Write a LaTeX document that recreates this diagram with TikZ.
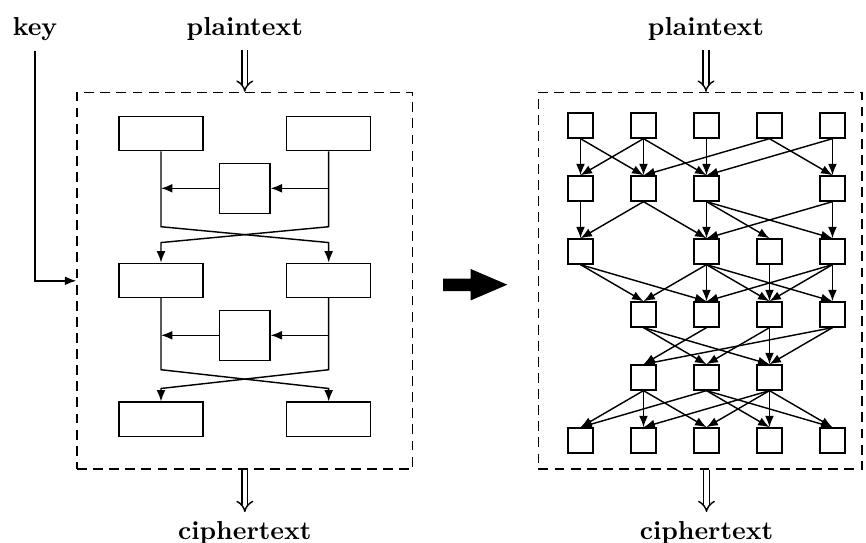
\documentclass[tikz,border=0pt]{standalone}
\usetikzlibrary{arrows.meta,calc}

\begin{document}
\begin{tikzpicture}[x=0.385pt, y=-0.385pt, line width=0.55pt,
    >={Latex[length=4.4pt,width=3.4pt]},
    txt/.style={font=\bfseries, anchor=base},
    encbox/.style={draw, dash pattern=on 3.8pt off 2.4pt, minimum height=145pt, inner sep=0pt},
    half/.style={draw, minimum width=32.3pt, minimum height=13.1pt, inner sep=0pt},
    fbox/.style={draw, minimum size=19.3pt, inner sep=0pt},
    sbox/.style={draw, minimum size=9.6pt, inner sep=0pt},
    feed/.style={double, double distance=1.7pt, -{Implies[scale=1.4]}},
    node distance=24.25pt]
    \useasboundingbox (0,0) rectangle (866,543);

    % texts
    \node[txt] (key) at (35,36) {key};
    \node[txt] (ptL) at (244.8,36) {plaintext};
    \node[txt] (ptR) at (706,36) {plaintext};
    \node[txt] (ctL) at (244.8,539.5) {ciphertext};
    \node[txt] (ctR) at (706.5,539.5) {ciphertext};

    % the two ciphers
    \node[encbox, minimum width=129.2pt] (encL) at (244.8,280.8) {};
    \node[encbox, minimum width=124.6pt] (encR) at (700.3,280.8) {};

    % left: two Feistel rounds
    \node[half] (L1) at (161,133.7) {};
    \node[half] (R1) at (328.7,133.7) {};
    \node[fbox] (F1) at (244.8,188.3) {};
    \node[half] (L2) at (161,280.3) {};
    \node[half] (R2) at (328.7,280.3) {};
    \node[fbox] (F2) at (244.8,335.3) {};
    \node[half] (L3) at (161,419.2) {};
    \node[half] (R3) at (328.7,419.2) {};

    \draw[feed] (ptL) -- (encL.north);
    \draw[feed] (encL.south) -- (ctL);
    \draw[->] (key) |- (encL.west);

    \draw[->] (R1.south |- F1) -- (F1);
    \draw[->] (F1) -- (L1.south |- F1);
    \draw[->] (L1.south) -- ++(0,75.3) -- ($(R2.north)+(0,-20)$) -- (R2.north);
    \draw[->] (R1.south) -- ++(0,75.3) -- ($(L2.north)+(0,-20)$) -- (L2.north);

    \draw[->] (R2.south |- F2) -- (F2);
    \draw[->] (F2) -- (L2.south |- F2);
    \draw[->] (L2.south) -- ++(0,71.7) -- ($(R3.north)+(0,-13)$) -- (R3.north);
    \draw[->] (R2.south) -- ++(0,71.7) -- ($(L3.north)+(0,-13)$) -- (L3.north);

    % big arrow
    \fill (443,278.5) -- (470.7,278.5) -- (470.7,269) -- (507.3,284.7)
        -- (470.7,300.4) -- (470.7,291) -- (443,291) -- cycle;

    % right: network of small boxes
    \node[sbox] (a1) at (580.5,125.5) {};
    \node[sbox, right of=a1] (a2) {};
    \node[sbox, right of=a2] (a3) {};
    \node[sbox, right of=a3] (a4) {};
    \node[sbox, right of=a4] (a5) {};

    \node[sbox, below of=a1] (b1) {};
    \node[sbox, below of=a2] (b2) {};
    \node[sbox, below of=a3] (b3) {};
    \node[sbox, below of=a5] (b5) {};

    \node[sbox, below of=b1] (c1) {};
    \node[sbox, below of=b3] (c3) {};
    \node[sbox, right of=c3] (c4) {};
    \node[sbox, below of=b5] (c5) {};

    \node[sbox, below of=c3] (d3) {};
    \node[sbox, left of=d3] (d2) {};
    \node[sbox, below of=c4] (d4) {};
    \node[sbox, below of=c5] (d5) {};

    \node[sbox, below of=d2] (e2) {};
    \node[sbox, below of=d3] (e3) {};
    \node[sbox, below of=d4] (e4) {};

    \node[sbox, below of=e2] (f2) {};
    \node[sbox, left of=f2] (f1) {};
    \node[sbox, below of=e3] (f3) {};
    \node[sbox, below of=e4] (f4) {};
    \node[sbox, right of=f4] (f5) {};

    \draw[feed] (ptR.south) -- (ptR.south |- encR.north);
    \draw[feed] (ctR.north |- encR.south) -- (ctR);

    \draw[->] (a1.south) -- (b1.north);
    \draw[->] (a1.south) -- (b2.north);
    \draw[->] (a2.south) -- (b1.north);
    \draw[->] (a2.south) -- (b2.north);
    \draw[->] (a2.south) -- (b3.north);
    \draw[->] (a3.south) -- (b3.north);
    \draw[->] (a4.south) -- (b2.north);
    \draw[->] (a4.south) -- (b5.north);
    \draw[->] (a5.south) -- (b3.north);
    \draw[->] (a5.south) -- (b5.north);

    \draw[->] (b1.south) -- (c1.north);
    \draw[->] (b2.south) -- (c1.north);
    \draw[->] (b2.south) -- (c3.north);
    \draw[->] (b3.south) -- (c3.north);
    \draw[->] (b3.south) -- (c4.north);
    \draw[->] (b3.south) -- (c5.north);
    \draw[->] (b5.south) -- (c3.north);
    \draw[->] (b5.south) -- (c5.north);

    \draw[->] (c1.south) -- (d2.north);
    \draw[->] (c1.south) -- (d3.north);
    \draw[->] (c3.south) -- (d2.north);
    \draw[->] (c3.south) -- (d3.north);
    \draw[->] (c3.south) -- (d4.north);
    \draw[->] (c3.south) -- (d5.north);
    \draw[->] (c4.south) -- (d4.north);
    \draw[->] (c5.south) -- (d3.north);
    \draw[->] (c5.south) -- (d4.north);
    \draw[->] (c5.south) -- (d5.north);

    \draw[->] (d2.south) -- (e3.north);
    \draw[->] (d2.south) -- (e4.north);
    \draw[->] (d3.south) -- (e2.north);
    \draw[->] (d4.south) -- (e3.north);
    \draw[->] (d4.south) -- (e4.north);
    \draw[->] (d5.south) -- (e2.north);
    \draw[->] (d5.south) -- (e4.north);

    \draw[->] (e2.south) -- (f1.north);
    \draw[->] (e2.south) -- (f2.north);
    \draw[->] (e2.south) -- (f3.north);
    \draw[->] (e3.south) -- (f1.north);
    \draw[->] (e3.south) -- (f4.north);
    \draw[->] (e3.south) -- (f5.north);
    \draw[->] (e4.south) -- (f2.north);
    \draw[->] (e4.south) -- (f3.north);
    \draw[->] (e4.south) -- (f4.north);
    \draw[->] (e4.south) -- (f5.north);
\end{tikzpicture}
\end{document}
